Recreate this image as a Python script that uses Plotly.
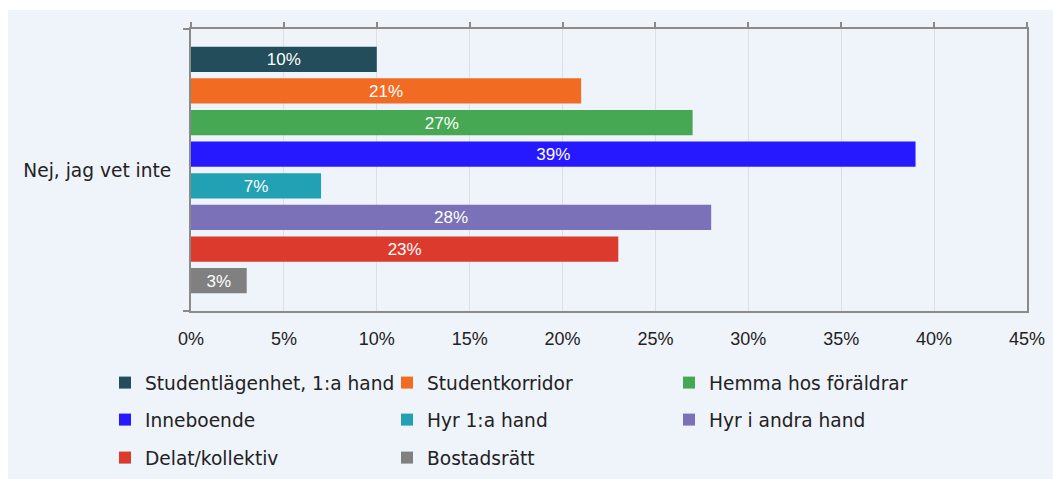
import plotly.graph_objects as go

# Survey answer category and share per housing type
category = ["Nej, jag vet inte"]
series_names = [
    "Studentlägenhet, 1:a hand",
    "Studentkorridor",
    "Hemma hos föräldrar",
    "Inneboende",
    "Hyr 1:a hand",
    "Hyr i andra hand",
    "Delat/kollektiv",
    "Bostadsrätt",
]
series_values = [10, 21, 27, 39, 7, 28, 23, 3]
series_colors = [
    "#234D5B", "#F26B23", "#46A853", "#2619FF",
    "#22A1B5", "#7A71B8", "#DB3A2C", "#808080",
]
x_ticks = [0, 5, 10, 15, 20, 25, 30, 35, 40, 45]
x_tick_labels = [f"{v}%" for v in x_ticks]

W, H = 1053, 479
L, R, T, B = 191, 1027, 29, 311  # plot area in pixels
PW, PH = R - L, B - T

legend_font = "DejaVu Sans, sans-serif"
# legend laid out as a 3-column grid, one legend box per entry
legend_cols_px = [105, 387, 669]
legend_rows_px = [383, 420, 458]

fig = go.Figure()
for i, (name, val, col) in enumerate(zip(series_names, series_values, series_colors)):
    fig.add_trace(go.Bar(
        y=category, x=[val], name=name, orientation="h",
        marker=dict(color=col, line=dict(width=0)),
        text=[f"{val}%"], textposition="inside", insidetextanchor="middle",
        textfont=dict(family="Liberation Sans, Arial, sans-serif", size=18.5, color="white"),
        legend="legend" if i == 0 else f"legend{i + 1}",
        hoverinfo="x+name",
    ))

# top axis carrying the upward tick marks
fig.add_trace(go.Scatter(x=[0, 45], y=category * 2, xaxis="x2", mode="markers",
                         marker=dict(opacity=0), showlegend=False, hoverinfo="skip"))

def px_to_paper_x(px):
    return (px - L) / PW

def px_to_paper_y(py):
    return (B - py) / PH

legends = {}
for i in range(len(series_names)):
    key = "legend" if i == 0 else f"legend{i + 1}"
    legends[key] = dict(
        orientation="h", xanchor="left", yanchor="middle",
        xref="container", yref="container",
        x=legend_cols_px[i % 3] / W, y=1 - legend_rows_px[i // 3] / H,
        font=dict(family=legend_font, size=18.6, color="#222222"),
        bgcolor="rgba(0,0,0,0)",
    )

fig.update_layout(
    template="none",
    width=W, height=H,
    margin=dict(l=L, r=W - R, t=T, b=H - B, pad=0),
    paper_bgcolor="white",
    plot_bgcolor="rgba(0,0,0,0)",
    barmode="group", bargap=0.103, bargroupgap=0.2,
    uniformtext=dict(mode="show", minsize=10),
    xaxis=dict(
        range=[0, 45], tickvals=x_ticks, ticktext=x_tick_labels,
        showgrid=True, gridcolor="#DCDFE4", gridwidth=1,
        showline=True, linecolor="#8A8A8A", linewidth=2, mirror=True,
        ticks="", zeroline=False, automargin=False,
        tickfont=dict(family="Liberation Sans, Arial, sans-serif", size=18, color="#222222"),
        ticklabelstandoff=10,
    ),
    xaxis2=dict(
        range=[0, 45], tickvals=x_ticks, overlaying="x", side="top",
        showticklabels=False, showgrid=False, showline=False, zeroline=False,
        ticks="outside", ticklen=6, tickcolor="#8A8A8A", tickwidth=2,
        automargin=False,
    ),
    yaxis=dict(
        autorange="reversed", tickson="boundaries",
        ticks="outside", ticklen=6, tickcolor="#8A8A8A", tickwidth=2,
        showline=True, linecolor="#8A8A8A", linewidth=2, mirror=True,
        showgrid=False, ticklabelstandoff=14, automargin=False,
        tickfont=dict(family=legend_font, size=18.6, color="#222222"),
    ),
    shapes=[dict(
        type="rect", xref="paper", yref="paper", layer="below",
        x0=px_to_paper_x(8), x1=px_to_paper_x(W + 5),
        y0=px_to_paper_y(H + 5), y1=px_to_paper_y(10),
        fillcolor="#EFF3FA", line=dict(width=0),
    )],
    **legends,
)

fig.write_html("out.html")
